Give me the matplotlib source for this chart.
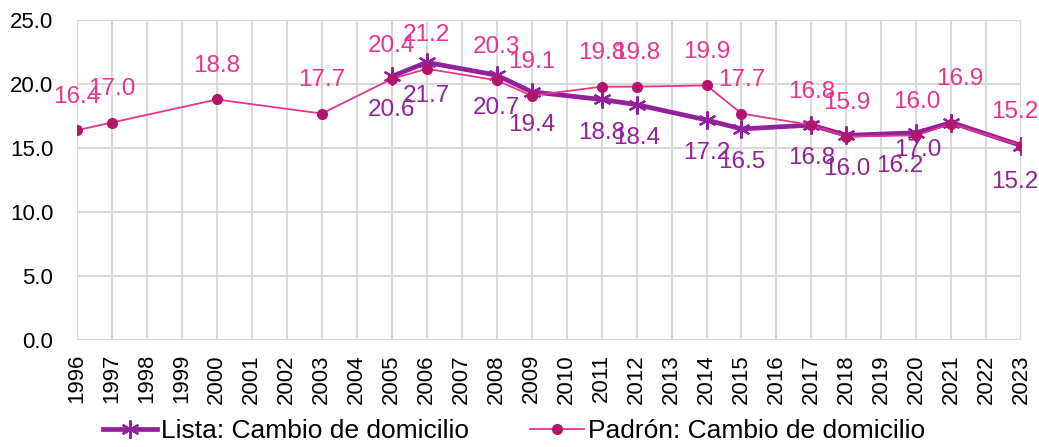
import matplotlib
matplotlib.use("Agg")
import matplotlib.pyplot as plt

plt.rcParams['font.family'] = ['Liberation Sans', 'DejaVu Sans']

years = list(range(1996, 2024))
lista_years = [2005, 2006, 2008, 2009, 2011, 2012, 2014, 2015, 2017, 2018, 2020, 2021, 2023]
lista_vals = [20.6, 21.7, 20.7, 19.4, 18.8, 18.4, 17.2, 16.5, 16.8, 16.0, 16.2, 17.0, 15.2]
padron_years = [1996, 1997, 2000, 2003, 2005, 2006, 2008, 2009, 2011, 2012, 2014, 2015, 2017, 2018, 2020, 2021, 2023]
padron_vals = [16.4, 17.0, 18.8, 17.7, 20.4, 21.2, 20.3, 19.1, 19.8, 19.8, 19.9, 17.7, 16.8, 15.9, 16.0, 16.9, 15.2]
yticks = [0, 5, 10, 15, 20, 25]

lista_color = '#92229B'
padron_color = '#E8338F'
padron_marker = '#B0166C'

fig = plt.figure(figsize=(10.39, 4.47), dpi=100)
ax = fig.add_axes([0.074, 0.239, 0.909, 0.716])

ax.plot(lista_years, lista_vals, color=lista_color, lw=3.4, marker=(6, 2, 0),
        ms=13, mew=1.6, mec=lista_color, zorder=3, label='Lista: Cambio de domicilio')
ax.plot(padron_years, padron_vals, color=padron_color, lw=1.3, marker='o',
        ms=7, mfc=padron_marker, mec=padron_marker, zorder=4,
        label='Padrón: Cambio de domicilio')

# labels
lista_dx = {2020: -12, 2021: -24, 2023: -5}
lista_dy = {2021: -20, 2023: -26}
for x, v in zip(lista_years, lista_vals):
    ax.annotate(f'{v:.1f}', (x, v), xytext=(lista_dx.get(x, 0), lista_dy.get(x, -24)),
                textcoords='offset points', ha='center', va='center', fontsize=17.5,
                color=lista_color, zorder=5)
padron_dx = {2021: 6, 2023: -5}
padron_dy = {2021: 32, 2023: 24}
for x, v in zip(padron_years, padron_vals):
    ax.annotate(f'{v:.1f}', (x, v), xytext=(padron_dx.get(x, 0), padron_dy.get(x, 24)),
                textcoords='offset points', ha='center', va='center', fontsize=17.5,
                color=padron_color, zorder=5)

ax.set_xlim(1996, 2023)
ax.set_ylim(0, 25)
ax.set_xticks(years)
ax.set_xticklabels([str(y) for y in years], rotation=90, fontsize=16)
ax.set_yticks(yticks)
ax.set_yticklabels([f'{t:.1f}' for t in yticks], fontsize=16)
ax.tick_params(axis='y', length=0, pad=17)
ax.tick_params(axis='x', length=0, pad=10)
ax.grid(True, color='#D9D9D9', lw=1.5)
ax.set_axisbelow(True)
for s in ax.spines.values():
    s.set_visible(False)

fig.legend(loc='center', bbox_to_anchor=(0.495, 0.035), ncol=2, frameon=False,
           fontsize=19, handlelength=2.05, columnspacing=2.3, handletextpad=0.15,
           borderpad=0, borderaxespad=0)

fig.savefig('out.png', dpi=100)
